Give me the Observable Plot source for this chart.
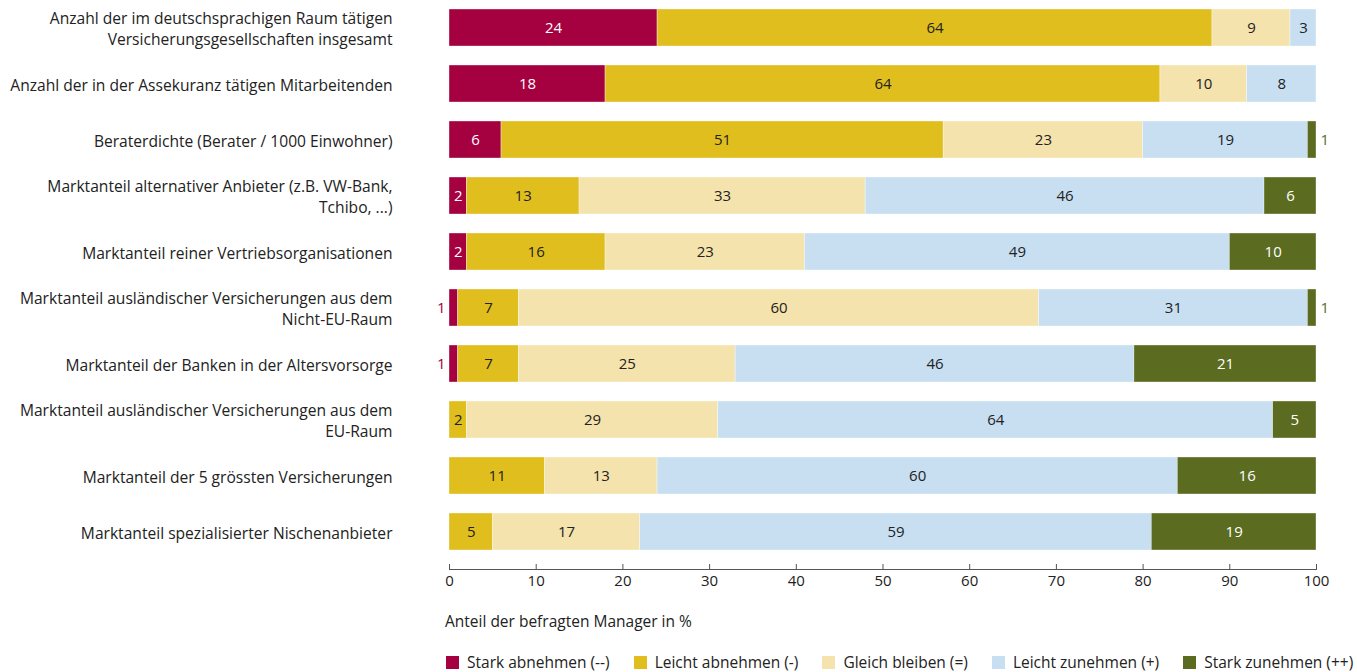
<!DOCTYPE html>
<html lang="de">
<head>
<meta charset="utf-8">
<script src="https://cdn.jsdelivr.net/npm/d3@7"></script>
<script src="https://cdn.jsdelivr.net/npm/@observablehq/plot@0.6"></script>
<style>
  body { margin: 0; background: #fff; font-family: "Open Sans", sans-serif; color: #222; }
  #wrap { position: relative; width: 1357px; height: 672px; overflow: hidden; }
  #axis-title { position: absolute; left: 445px; top: 610px; font-size: 15.5px; color: #222; white-space: nowrap; }
  #legend { position: absolute; left: 446px; top: 651px; width: 911px; display: flex; font-size: 15.5px; color: #222; white-space: nowrap; }
  #legend .item { display: flex; align-items: center; margin-right: 24px; flex-shrink: 0; }
  #legend .sw { width: 13px; height: 13px; margin-right: 8px; flex-shrink: 0; }
</style>
</head>
<body>
<div id="wrap">
  <div id="chart"></div>
  <div id="axis-title">Anteil der befragten Manager in %</div>
  <div id="legend"></div>
</div>
<script>
// Statements (rows) of the survey
const categories = [
  "Anzahl der im deutschsprachigen Raum tätigen\nVersicherungsgesellschaften insgesamt",
  "Anzahl der in der Assekuranz tätigen Mitarbeitenden",
  "Beraterdichte (Berater / 1000 Einwohner)",
  "Marktanteil alternativer Anbieter (z.B. VW-Bank,\nTchibo, ...)",
  "Marktanteil reiner Vertriebsorganisationen",
  "Marktanteil ausländischer Versicherungen aus dem\nNicht-EU-Raum",
  "Marktanteil der Banken in der Altersvorsorge",
  "Marktanteil ausländischer Versicherungen aus dem\nEU-Raum",
  "Marktanteil der 5 grössten Versicherungen",
  "Marktanteil spezialisierter Nischenanbieter"
];

// Answer options, in stacking order
const seriesNames = [
  "Stark abnehmen (--)",
  "Leicht abnehmen (-)",
  "Gleich bleiben (=)",
  "Leicht zunehmen (+)",
  "Stark zunehmen (++)"
];
const seriesColors = ["#a50040", "#e0be1e", "#f4e3ac", "#c7dff1", "#5b6b1f"];

// Share of respondents in % per answer option
const starkAbnehmen  = [24, 18,  6,  2,  2,  1,  1,  0,  0,  0];
const leichtAbnehmen = [64, 64, 51, 13, 16,  7,  7,  2, 11,  5];
const gleichBleiben  = [ 9, 10, 23, 33, 23, 60, 25, 29, 13, 17];
const leichtZunehmen = [ 3,  8, 19, 46, 49, 31, 46, 64, 60, 59];
const starkZunehmen  = [ 0,  0,  1,  6, 10,  1, 21,  5, 16, 19];

const xTicks = [0, 10, 20, 30, 40, 50, 60, 70, 80, 90, 100];

const seriesValues = [starkAbnehmen, leichtAbnehmen, gleichBleiben, leichtZunehmen, starkZunehmen];
const data = [];
categories.forEach((c, i) => {
  seriesNames.forEach((s, j) => {
    const v = seriesValues[j][i];
    if (v > 0) data.push({category: c, series: s, si: j, value: v});
  });
});

const darkSeries = new Set([0, 4]);
const stackOpts = {x: "value", y: "category", z: "series", order: seriesNames};

const chart = Plot.plot({
  width: 1357,
  height: 600,
  marginLeft: 449,
  marginRight: 41,
  marginTop: 8,
  marginBottom: 31,
  style: {fontFamily: "Open Sans, sans-serif", fontSize: "15px", color: "#222"},
  x: {domain: [0, 100]},
  y: {domain: categories, paddingInner: 0.343, paddingOuter: 0, insetBottom: 18},
  color: {domain: seriesNames, range: seriesColors},
  marks: [
    Plot.barX(data, Plot.stackX({...stackOpts, fill: "series", stroke: "#fff", strokeWidth: 0.6, strokeOpacity: 0.6})),
    // values inside the segments
    Plot.text(data, Plot.stackX({...stackOpts,
      text: d => (d.value >= 2 && !darkSeries.has(d.si)) ? String(d.value) : "",
      fill: "#222", fontSize: 15})),
    Plot.text(data, Plot.stackX({...stackOpts,
      text: d => (d.value >= 2 && darkSeries.has(d.si)) ? String(d.value) : "",
      fill: "#fff", fontSize: 15})),
    // tiny shares labelled outside the bar
    Plot.text(data, Plot.stackX1({...stackOpts,
      text: d => (d.value < 2 && d.si === 0) ? String(d.value) : "",
      fill: seriesColors[0], textAnchor: "end", dx: -4, fontSize: 15})),
    Plot.text(data, Plot.stackX2({...stackOpts,
      text: d => (d.value < 2 && d.si === 4) ? String(d.value) : "",
      fill: seriesColors[4], textAnchor: "start", dx: 4, fontSize: 15})),
    // x axis: baseline, short upward ticks, labels
    Plot.frame({anchor: "bottom", stroke: "#555"}),
    Plot.gridX(xTicks, {stroke: "#555", strokeOpacity: 1, insetTop: 556}),
    Plot.axisX(xTicks, {tickSize: 0, tickPadding: 6, label: null, fill: "#222", fontSize: 15}),
    Plot.axisY({tickSize: 0, tickPadding: 57, label: null, fill: "#222", fontSize: 15.6, lineHeight: 1.35})
  ]
});
document.getElementById("chart").appendChild(chart);

const legend = document.getElementById("legend");
seriesNames.forEach((s, j) => {
  const item = document.createElement("div");
  item.className = "item";
  const sw = document.createElement("span");
  sw.className = "sw";
  sw.style.background = seriesColors[j];
  const label = document.createElement("span");
  label.textContent = s;
  item.appendChild(sw);
  item.appendChild(label);
  legend.appendChild(item);
});
</script>
</body>
</html>
